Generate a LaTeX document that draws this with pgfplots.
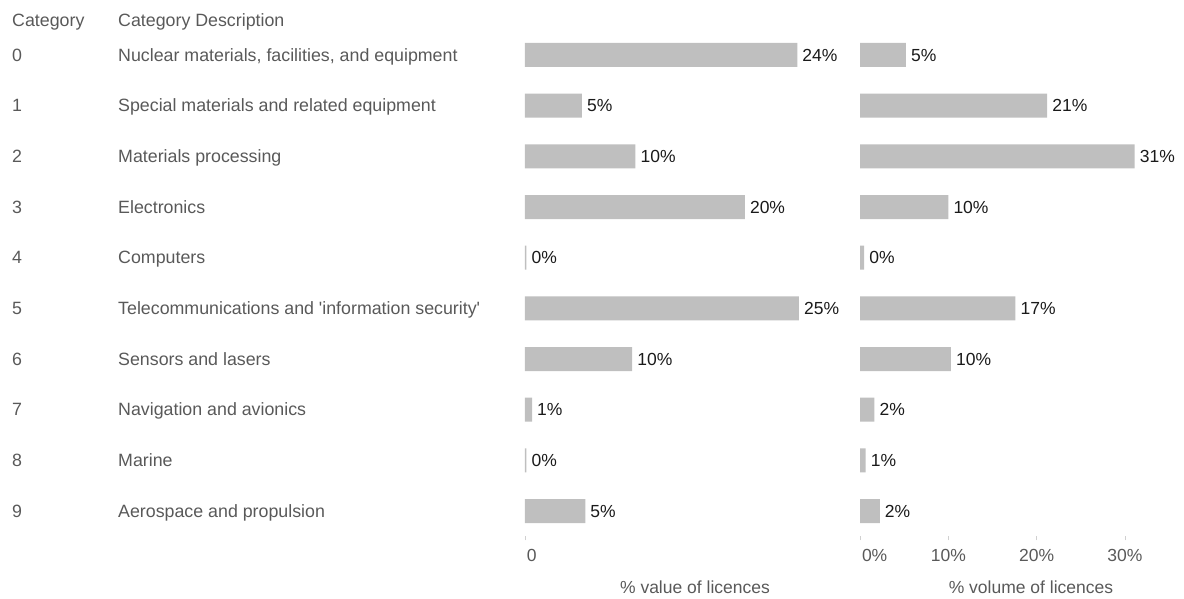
\documentclass[border=0pt]{standalone}
\usepackage{fontspec}
\setmainfont{Liberation Sans}
\usepackage{pgfplots}
\pgfplotsset{compat=1.18}
\usepackage{pgfplotstable}
\definecolor{barc}{HTML}{BFBFBF}
\definecolor{txt}{HTML}{595959}
\definecolor{lab}{HTML}{1A1A1A}
\definecolor{tk}{HTML}{D0D0D0}

\pgfplotstableread{
row val lab
0 24.4 24
1 5.1 5
2 9.9 10
3 19.7 20
4 0.12 0
5 24.55 25
6 9.6 10
7 0.63 1
8 0.12 0
9 5.4 5
}\valtab

\pgfplotstableread{
row val lab
0 5.2 5
1 21.2 21
2 31.1 31
3 10.0 10
4 0.46 0
5 17.6 17
6 10.3 10
7 1.63 2
8 0.64 1
9 2.24 2
}\voltab

\newcommand{\fs}{\fontsize{17.5}{21}\selectfont}
\newcommand{\fc}{\fontsize{17.8}{21}\selectfont}

\pgfplotsset{mybars/.style={
  scale only axis, height=506.67pt, ymin=-0.5, ymax=9.5, y dir=reverse, xmin=0,
  axis line style={draw=none},
  tick align=outside, major tick length=4pt,
  major x tick style={tk, line width=0.8pt},
  major y tick style={draw=none},
  xtick pos=bottom,
  xbar, bar width=24pt, clip=false,
  point meta=explicit symbolic,
  nodes near coords={\strut\pgfplotspointmeta\%},
  every node near coord/.append style={font=\fs, text=lab, anchor=west, inner sep=5pt, yshift=-2pt},
  xticklabel style={font=\fs, text=txt, yshift=-5pt},
  xlabel style={font=\fs, text=txt, at={(axis description cs:0.5,-0.1)}, anchor=center},
}}

\begin{document}
\begin{tikzpicture}
\useasboundingbox (0,0) rectangle (1184pt,598pt);
\node[font=\fc, text=txt, anchor=west, inner sep=0pt] at (12pt,576pt) {\strut Category};
\node[font=\fc, text=txt, anchor=west, inner sep=0pt] at (118pt,576pt) {\strut Category Description};

\begin{axis}[mybars, at={(525pt,61.67pt)}, anchor=south west,
  width=340pt, xmax=30.47,
  xtick={0}, xticklabels={\makebox[0pt][l]{\hspace{2pt}0}},
  ytick={0,...,9},
  typeset ticklabels with strut,
  xticklabel style={yshift=2pt},
  yticklabels={
    {\makebox[106pt][l]{0}Nuclear materials, facilities, and equipment},
    {\makebox[106pt][l]{1}Special materials and related equipment},
    {\makebox[106pt][l]{2}Materials processing},
    {\makebox[106pt][l]{3}Electronics},
    {\makebox[106pt][l]{4}Computers},
    {\makebox[106pt][l]{5}Telecommunications and \textquotesingle information security\textquotesingle},
    {\makebox[106pt][l]{6}Sensors and lasers},
    {\makebox[106pt][l]{7}Navigation and avionics},
    {\makebox[106pt][l]{8}Marine},
    {\makebox[106pt][l]{9}Aerospace and propulsion}},
  yticklabel style={font=\fc, text=txt, anchor=west, inner sep=0pt, xshift=-509pt, yshift=-2pt},
  xlabel={\% value of licences}]
\addplot[fill=barc, draw=none] table[x=val, y=row, meta=lab] {\valtab};
\end{axis}

\begin{axis}[mybars, at={(860pt,61.67pt)}, anchor=south west,
  width=342pt, xmax=38.73,
  ytick=\empty,
  xtick={0,10,20,30}, xticklabels={\makebox[0pt][l]{\hspace{2pt}0\%},10\%,20\%,30\%},
  xlabel={\% volume of licences}]
\addplot[fill=barc, draw=none] table[x=val, y=row, meta=lab] {\voltab};
\end{axis}
\end{tikzpicture}
\end{document}
